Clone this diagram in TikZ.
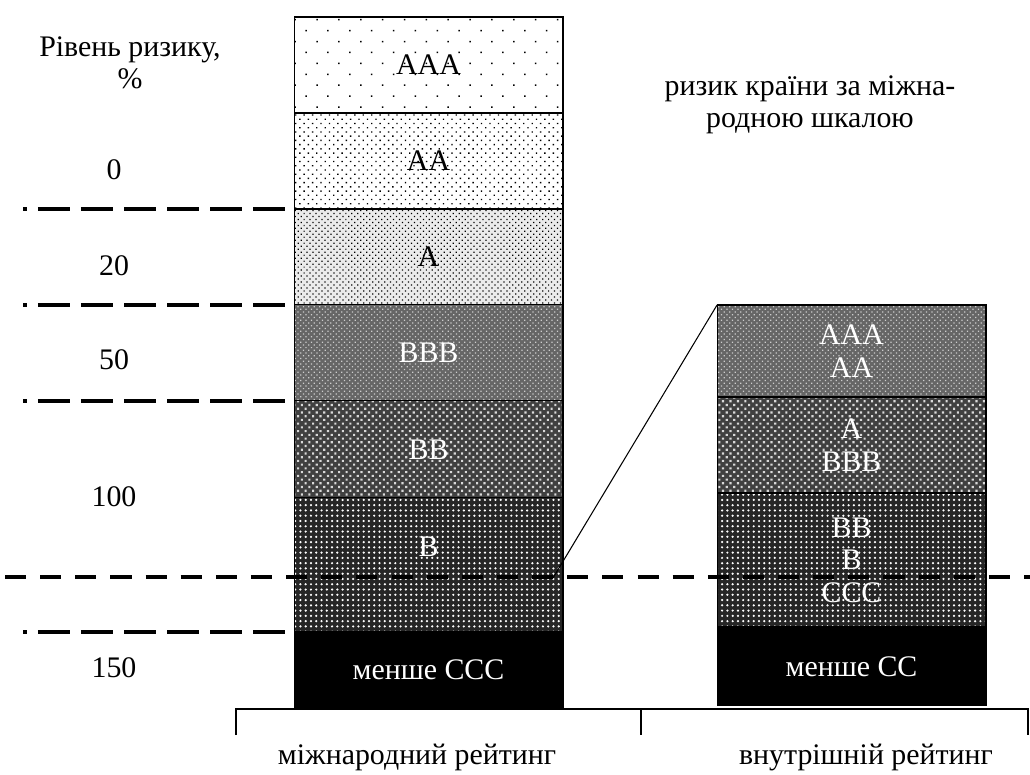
\documentclass[tikz,border=0pt]{standalone}
\usepackage{fontspec}
\setmainfont{Liberation Serif}
\usetikzlibrary{positioning,patterns.meta}

\begin{document}
\begin{tikzpicture}[x=0.02cm, y=0.02cm, font=\fontsize{17}{18.5}\selectfont]
  \tikzset{
    seg/.style={draw, line width=0.6pt, minimum width=5.38cm, outer sep=0pt,
                inner sep=0pt, align=center},
    grA/.style={seg, preaction={fill=white},
                pattern={Dots[distance=8.8pt, angle=45, radius=0.6pt]}},
    grB/.style={seg, preaction={fill=white},
                pattern={Dots[distance=3.4pt, angle=45, radius=0.55pt]}},
    grC/.style={seg, preaction={fill=black!8},
                pattern={Dots[distance=2.4pt, angle=45, radius=0.5pt]}},
    grD/.style={seg, preaction={fill=black!60}, pattern color=white!80!black,
                pattern={Dots[distance=2.2pt, angle=45, radius=0.5pt]}, text=white},
    grE/.style={seg, preaction={fill=black!75}, pattern color=white!85!black,
                pattern={Dots[distance=3pt, angle=45, radius=0.85pt]}, text=white},
    grF/.style={seg, preaction={fill=black!85}, pattern color=white,
                pattern={Dots[distance=3pt, radius=0.7pt]}, text=white},
    grK/.style={seg, fill=black, text=white},
    riskline/.style={line width=2pt, dash pattern=on 18pt off 6.5pt, dash phase=16pt},
    cutline/.style={line width=2pt, dash pattern=on 12pt off 8pt},
  }
  \useasboundingbox (0,0) rectangle (1030,-774);

  % international scale
  \node[grA, minimum height=1.92cm] (aaa) at (428.5,-65) {AAA};
  \node[grB, minimum height=1.92cm, below=0pt of aaa] (aa) {AA};
  \node[grC, minimum height=1.92cm, below=0pt of aa] (a) {A};
  \node[grD, minimum height=1.92cm, below=0pt of a] (bbb) {BBB};
  \node[grE, minimum height=1.94cm, below=0pt of bbb] (bb) {BB};
  \node[grF, minimum height=2.68cm, below=0pt of bb,
        label={[text=white, yshift=0.36cm]center:B}] (b) {};
  \node[grK, minimum height=1.52cm, below=0pt of b] (lessccc) {менше CCC};

  % domestic scale
  \node[grD, minimum height=1.84cm] (rtop) at (851.5,-351) {AAA\\AA};
  \node[grE, minimum height=1.92cm, below=0pt of rtop] (rmid) {A\\BBB};
  \node[grF, minimum height=2.68cm, below=0pt of rmid] (rlow) {BB\\B\\CCC};
  \node[grK, minimum height=1.58cm, below=0pt of rlow] (lesscc) {менше CC};

  % risk levels
  \node[align=center] (risk) at (130,-63) {Рівень ризику,\\\%};
  \foreach \v/\y in {0/170,20/266,50/360,100/497,150/668}
    \node (p\v) at (114,-\y) {\v};
  \foreach \y in {209,305,401,632}
    \draw[riskline] (23,-\y) -- (294,-\y);

  \node[align=center] (scale) at (810,-105) {ризик країни за міжна-\\родною шкалою};

  % cut and zoom line
  \draw[cutline] (5,-577) -- (1030,-577);
  \coordinate (cut) at (553,-578);
  \draw[line width=0.6pt] (cut) -- (rtop.north west);

  % bracket
  \coordinate (bl) at (236,-709);
  \coordinate (bm) at (641,-709);
  \coordinate (br) at (1028,-709);
  \draw[line width=0.6pt] ([yshift=-0.52cm]bl) -- (bl) -- (br) -- ([yshift=-0.52cm]br);
  \draw[line width=0.6pt] (bm) -- ([yshift=-0.52cm]bm);
  \node (intl) at (417,-757) {міжнародний рейтинг};
  \node (dom) at (866,-757) {внутрішній рейтинг};
\end{tikzpicture}
\end{document}
